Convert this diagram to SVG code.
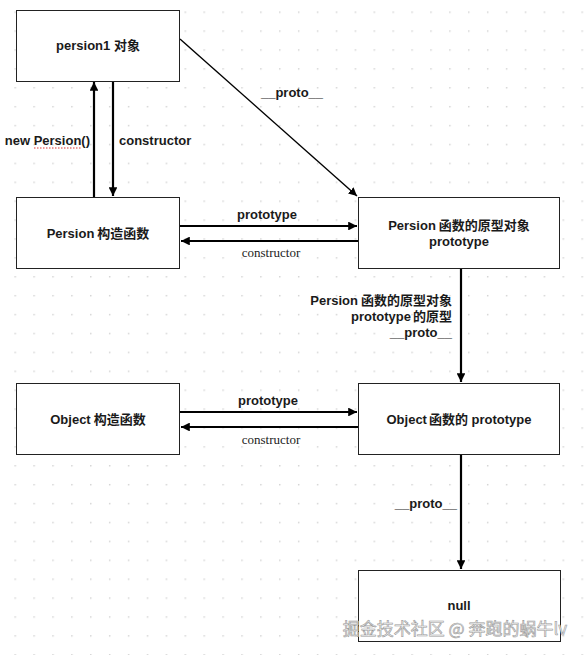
<svg xmlns="http://www.w3.org/2000/svg" width="586" height="655" viewBox="0 0 586 655">
<style>
.box{fill:#fff;stroke:#222;stroke-width:1}
.t{font-family:"Liberation Sans","Noto Sans CJK SC",sans-serif;font-size:13px;font-weight:600;fill:#1a1a1a}
.s{font-family:"Liberation Serif","Noto Serif CJK SC",serif;font-size:13px;fill:#222}
.ln{stroke:#000;stroke-width:2.2;fill:none}
.thin{stroke:#000;stroke-width:1.4;fill:none}
.wm{font-family:"Noto Sans CJK SC",sans-serif;font-size:17px;fill:#f2f2f2;stroke:#9a9a9a;stroke-width:0.6}
</style>
<defs>
<pattern id="dots" x="5.5" y="2.5" width="18.9" height="18.9" patternUnits="userSpaceOnUse">
<rect x="9" y="9" width="1.4" height="1.4" fill="#cfcfcf"/>
</pattern>
<marker id="ah" viewBox="0 0 10 10" refX="10" refY="5" markerWidth="4" markerHeight="4" orient="auto" markerUnits="strokeWidth">
<path d="M0,0 L10,5 L0,10 z" fill="#000"/>
</marker>
<marker id="ah2" viewBox="0 0 10 10" refX="10" refY="5" markerWidth="6" markerHeight="6" orient="auto" markerUnits="strokeWidth">
<path d="M0,0 L10,5 L0,10 z" fill="#000"/>
</marker>
</defs>
<rect width="586" height="655" fill="#fff"/>
<rect width="586" height="655" fill="url(#dots)"/>

<g id="connectors">
<line class="ln" x1="94" y1="197" x2="94" y2="82" marker-end="url(#ah)"/>
<line class="ln" x1="113" y1="81" x2="113" y2="196" marker-end="url(#ah)"/>
<line class="thin" x1="180" y1="39" x2="357" y2="196" marker-end="url(#ah2)"/>
<line class="ln" x1="180" y1="226" x2="357" y2="226" marker-end="url(#ah)"/>
<line class="ln" x1="358" y1="241" x2="181" y2="241" marker-end="url(#ah)"/>
<line class="ln" x1="461" y1="268" x2="461" y2="382" marker-end="url(#ah)"/>
<line class="ln" x1="180" y1="412" x2="357" y2="412" marker-end="url(#ah)"/>
<line class="ln" x1="358" y1="427" x2="181" y2="427" marker-end="url(#ah)"/>
<line class="ln" x1="461" y1="454" x2="461" y2="569" marker-end="url(#ah)"/>
<text class="t" x="90" y="145" text-anchor="end">new Persion()</text>
<path d="M34,148 L81,148" stroke="#d33" stroke-width="1" stroke-dasharray="1.5,1.5"/>
<text class="t" x="119" y="145">constructor</text>
<text class="t" x="292" y="97" text-anchor="middle">__proto__</text>
<text class="t" x="267" y="219" text-anchor="middle">prototype</text>
<text class="s" x="271" y="257" text-anchor="middle">constructor</text>
<text class="t" x="452" y="305" text-anchor="end">Persion<tspan dx="3">函数的原型对象</tspan></text>
<text class="t" x="452" y="321" text-anchor="end">prototype<tspan dx="2">的原型</tspan></text>
<text class="t" x="452" y="337" text-anchor="end">__proto__</text>
<text class="t" x="268" y="405" text-anchor="middle">prototype</text>
<text class="s" x="271" y="444" text-anchor="middle">constructor</text>
<text class="t" x="457" y="508" text-anchor="end">__proto__</text>
</g>

<g id="n1">
<rect class="box" x="16.5" y="10.5" width="163" height="71"/>
<text class="t" x="98" y="50" text-anchor="middle">persion1 对象</text>
</g>
<g id="n2">
<rect class="box" x="16.5" y="197.5" width="163" height="71"/>
<text class="t" x="98" y="238" text-anchor="middle">Persion<tspan dx="3">构造函数</tspan></text>
</g>
<g id="n3">
<rect class="box" x="358.5" y="197.5" width="201" height="71"/>
<text class="t" x="459" y="230" text-anchor="middle">Persion<tspan dx="3">函数的原型对象</tspan></text>
<text class="t" x="459" y="246" text-anchor="middle">prototype</text>
</g>
<g id="n4">
<rect class="box" x="16.5" y="383.5" width="163" height="71"/>
<text class="t" x="98" y="424" text-anchor="middle">Object<tspan dx="3">构造函数</tspan></text>
</g>
<g id="n5">
<rect class="box" x="358.5" y="383.5" width="201" height="71"/>
<text class="t" x="459" y="424" text-anchor="middle">Object<tspan dx="2">函数的 prototype</tspan></text>
</g>
<g id="n6">
<rect class="box" x="358.5" y="570.5" width="202" height="71"/>
<text class="t" x="459" y="610" text-anchor="middle">null</text>
</g>
<text class="wm" x="455" y="635" text-anchor="middle">掘金技术社区 @ 奔跑的蜗牛lv</text>
</svg>
